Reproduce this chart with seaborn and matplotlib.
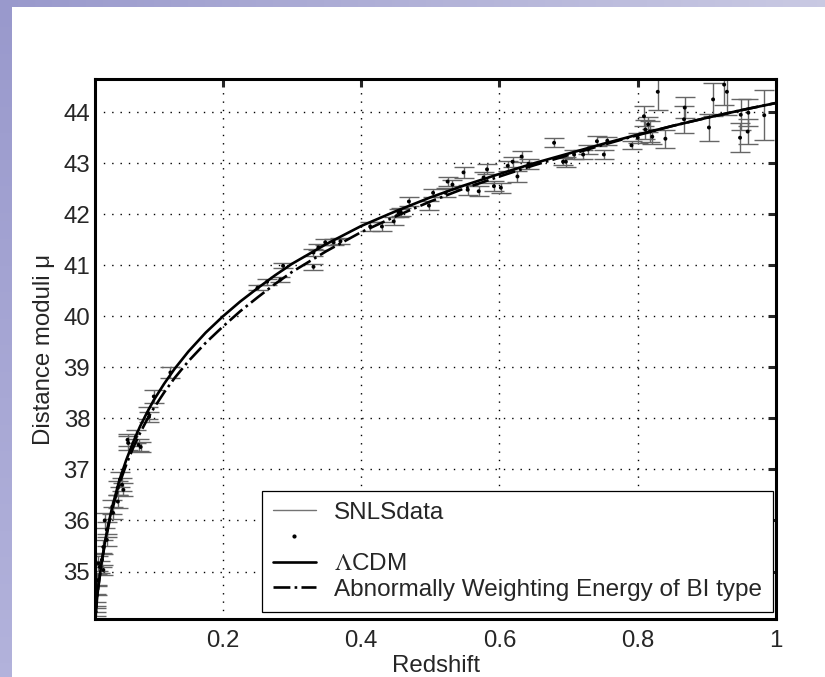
import matplotlib
matplotlib.use("Agg")
import matplotlib.pyplot as plt
from matplotlib.lines import Line2D
import numpy as np
import pandas as pd
import seaborn as sns

# SNLS data points
z_data = [0.016, 0.016, 0.016, 0.018, 0.018, 0.020, 0.022, 0.025, 0.027, 0.027,
          0.029, 0.032, 0.032, 0.040, 0.041, 0.048, 0.048, 0.051, 0.054, 0.056,
          0.062, 0.063, 0.074, 0.078, 0.081, 0.092, 0.093, 0.100, 0.124,
          0.250, 0.264, 0.283, 0.287, 0.331, 0.331, 0.338, 0.348, 0.360, 0.370,
          0.413, 0.430, 0.447, 0.454, 0.457, 0.469, 0.498, 0.504, 0.522, 0.525,
          0.532, 0.548, 0.554, 0.570, 0.577, 0.582, 0.592, 0.602, 0.612, 0.619,
          0.626, 0.632, 0.642, 0.679, 0.692, 0.696, 0.708, 0.721, 0.728, 0.741,
          0.751, 0.756, 0.791, 0.800, 0.809, 0.811, 0.815, 0.818, 0.821, 0.829,
          0.840, 0.867, 0.868, 0.903, 0.909, 0.925, 0.929, 0.948, 0.949, 0.959,
          0.960, 0.983]
mu_data = [34.21, 34.31, 34.44, 34.64, 34.83, 35.16, 35.09, 35.23, 35.03, 35.48,
           36.00, 35.62, 35.82, 36.27, 36.15, 36.37, 36.64, 36.80, 36.70, 36.60,
           37.58, 37.52, 37.64, 37.48, 37.44, 38.10, 38.03, 38.43, 38.90,
           40.56, 40.68, 40.72, 40.99, 40.97, 41.25, 41.35, 41.45, 41.45, 41.47,
           41.76, 41.76, 41.86, 42.03, 42.05, 42.25, 42.17, 42.42, 42.42, 42.64,
           42.58, 42.82, 42.48, 42.45, 42.72, 42.88, 42.55, 42.52, 42.95, 43.03,
           42.74, 43.13, 42.99, 43.40, 43.03, 43.03, 43.17, 43.17, 43.27, 43.43,
           43.17, 43.44, 43.35, 43.50, 43.92, 43.66, 43.76, 43.62, 43.52, 44.40,
           43.48, 43.86, 44.09, 43.70, 44.25, 44.54, 44.40, 43.50, 43.95, 43.62,
           43.99, 43.94]
mu_err = [0.08, 0.10, 0.12, 0.10, 0.12, 0.15, 0.12, 0.14, 0.10, 0.13,
          0.14, 0.12, 0.15, 0.14, 0.12, 0.12, 0.14, 0.15, 0.13, 0.13,
          0.12, 0.14, 0.13, 0.12, 0.10, 0.12, 0.10, 0.12, 0.10,
          0.05, 0.06, 0.05, 0.05, 0.06, 0.06, 0.06, 0.06, 0.06, 0.06,
          0.08, 0.08, 0.08, 0.08, 0.08, 0.08, 0.08, 0.08, 0.09, 0.09,
          0.09, 0.10, 0.10, 0.10, 0.10, 0.10, 0.10, 0.10, 0.10, 0.10,
          0.10, 0.10, 0.10, 0.09, 0.07, 0.10, 0.08, 0.08, 0.09, 0.10,
          0.09, 0.08, 0.08, 0.10, 0.20, 0.18, 0.15, 0.20, 0.15, 0.36,
          0.18, 0.26, 0.20, 0.26, 0.33, 0.40, 0.45, 0.28, 0.30, 0.25,
          0.27, 0.49]

# model curves
z_curve = [0.015, 0.02, 0.025, 0.03, 0.035, 0.04, 0.05, 0.06, 0.07, 0.08, 0.09,
           0.10, 0.115, 0.13, 0.15, 0.175, 0.2, 0.225, 0.25, 0.275, 0.3, 0.35,
           0.4, 0.45, 0.5, 0.55, 0.6, 0.65, 0.7, 0.75, 0.8, 0.85, 0.9, 0.95, 1.0]
mu_lcdm = [34.10, 34.73, 35.23, 35.63, 35.97, 36.27, 36.78, 37.18, 37.53, 37.84, 38.11,
           38.36, 38.68, 38.97, 39.31, 39.68, 40.00, 40.29, 40.55, 40.80, 41.03, 41.42,
           41.77, 42.06, 42.33, 42.57, 42.79, 43.00, 43.19, 43.38, 43.56, 43.73, 43.89,
           44.04, 44.18]
mu_awe = [34.10, 34.72, 35.21, 35.60, 35.93, 36.22, 36.71, 37.09, 37.42, 37.71, 37.97,
          38.20, 38.51, 38.79, 39.12, 39.48, 39.80, 40.10, 40.37, 40.63, 40.87, 41.28,
          41.65, 41.96, 42.25, 42.51, 42.74, 42.96, 43.16, 43.36, 43.55, 43.73, 43.89,
          44.04, 44.18]

df_data = pd.DataFrame({"z": z_data, "mu": mu_data, "err": mu_err})
df_curve = pd.DataFrame({"z": z_curve, "lcdm": mu_lcdm, "awe": mu_awe})

sns.set_style("white")
plt.rcParams["font.family"] = ["Liberation Sans", "DejaVu Sans"]
plt.rcParams["mathtext.fontset"] = "stix"

fig = plt.figure(figsize=(8.25, 6.77), dpi=100)

# slide background: purple bands on the left and top
bg = fig.add_axes([0, 0, 1, 1], zorder=-10)
h, w = 677, 825
img = np.ones((h, w, 3))
left_col = np.linspace([0.60, 0.60, 0.80], [0.70, 0.70, 0.86], h)
top_row = np.linspace([0.60, 0.60, 0.80], [0.79, 0.79, 0.89], w)
img[:, :12, :] = left_col[:, None, :]
img[:7, :, :] = top_row[None, :, :]
bg.imshow(img, aspect="auto", extent=[0, 1, 0, 1], interpolation="bilinear")
bg.axis("off")

ax = fig.add_axes([0.1152, 0.0857, 0.8254, 0.7976])
ax.set_facecolor("white")

ax.errorbar(df_data["z"], df_data["mu"], yerr=df_data["err"], fmt="none",
            ecolor="0.4", elinewidth=1.0, capsize=7.5, capthick=1.0, zorder=2)
sns.scatterplot(data=df_data, x="z", y="mu", ax=ax, color="black", s=8,
                edgecolor="none", zorder=3, legend=False)
sns.lineplot(data=df_curve, x="z", y="lcdm", ax=ax, color="black", linewidth=1.9,
             zorder=4, legend=False)
sns.lineplot(data=df_curve, x="z", y="awe", ax=ax, color="black", linewidth=1.9,
             linestyle="-.", zorder=4, legend=False)

ax.set_xlim(0.015, 1.0)
ax.set_ylim(34.07, 44.65)
ax.set_xticks([0.2, 0.4, 0.6, 0.8, 1.0])
ax.set_xticklabels(["0.2", "0.4", "0.6", "0.8", "1"])
ax.set_yticks(range(35, 45))

ax.grid(True, color="black", linestyle=(0, (1, 5)), linewidth=1.0)
ax.set_axisbelow(True)
for s in ax.spines.values():
    s.set_linewidth(2.2)
    s.set_color("black")
ax.tick_params(direction="in", length=6, width=2.2, labelsize=17.3,
               top=True, right=True)
ax.tick_params(axis="x", pad=8)
ax.tick_params(axis="y", pad=3.5)

ax.set_xlabel("Redshift", fontsize=17.3, labelpad=2)
ax.set_ylabel("Distance moduli μ", fontsize=17.3, labelpad=6)

handles = [
    Line2D([], [], color="0.45", linewidth=1.0),
    Line2D([], [], color="black", marker=".", markersize=4, linestyle="none"),
    Line2D([], [], color="black", linewidth=1.9),
    Line2D([], [], color="black", linewidth=1.9, linestyle="-."),
]
labels = ["SNLSdata", " ", r"$\Lambda$CDM", "Abnormally Weighting Energy of BI type"]
leg = ax.legend(handles, labels, loc="lower right", bbox_to_anchor=(0.9956, 0.013),
                fontsize=17.5, frameon=True, fancybox=False, framealpha=1,
                edgecolor="black", handlelength=1.75, labelspacing=0.15,
                borderpad=0.46, handletextpad=0.75, borderaxespad=0)
leg.get_frame().set_linewidth(0.9)
leg.set_zorder(10)

fig.savefig("out.png", dpi=100)
